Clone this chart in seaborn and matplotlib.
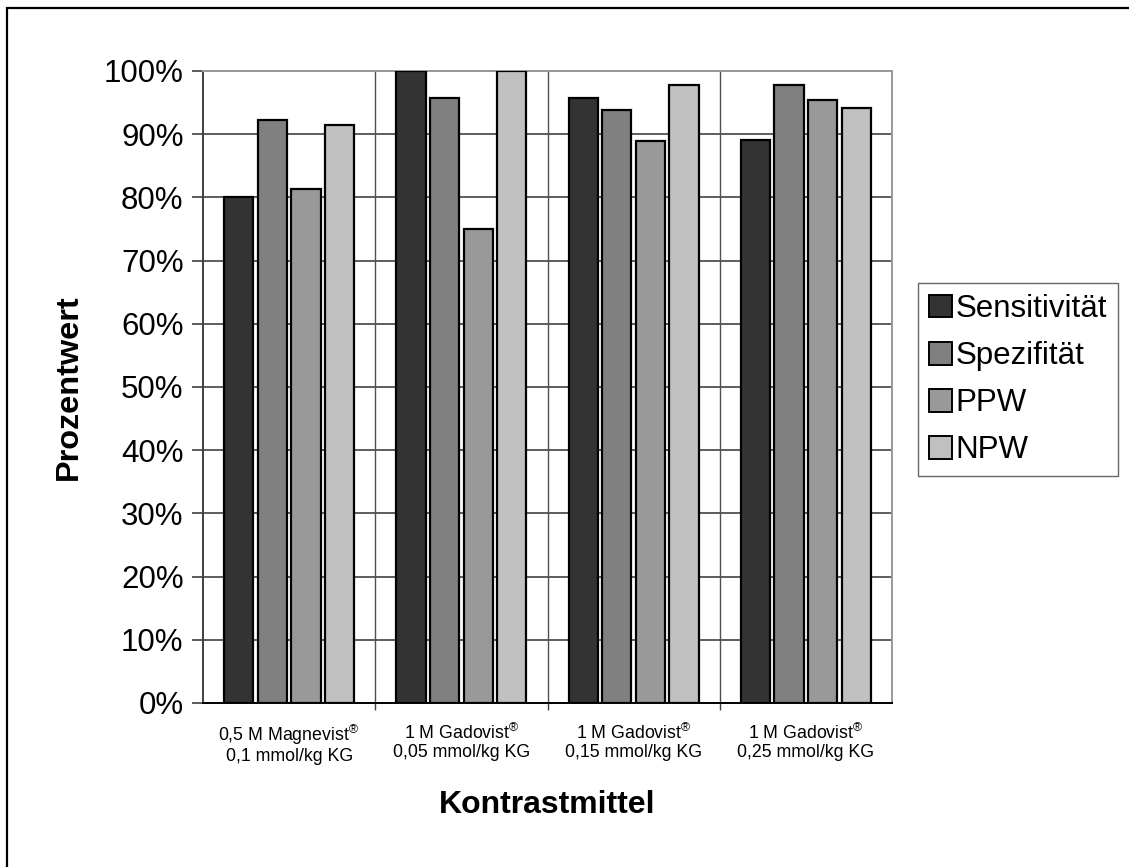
import matplotlib
matplotlib.use("Agg")
import matplotlib.pyplot as plt
from matplotlib.patches import Rectangle, Patch
from matplotlib.ticker import FuncFormatter, FixedLocator
import seaborn as sns
import pandas as pd

# Diagnostic measures per contrast agent protocol (percent)
categories = [
    "0,5 M Magnevist$^{®}$\n0,1 mmol/kg KG",
    "1 M Gadovist$^{®}$\n0,05 mmol/kg KG",
    "1 M Gadovist$^{®}$\n0,15 mmol/kg KG",
    "1 M Gadovist$^{®}$\n0,25 mmol/kg KG",
]
measures = ["Sensitivität", "Spezifität", "PPW", "NPW"]
sensitivitaet = [80.0, 100.0, 95.7, 89.1]
spezifitaet = [92.3, 95.7, 93.8, 97.8]
ppw = [81.3, 75.0, 88.9, 95.4]
npw = [91.4, 100.0, 97.8, 94.2]
colors = ["#333333", "#808080", "#999999", "#C0C0C0"]

rows = []
for m, vals in zip(measures, [sensitivitaet, spezifitaet, ppw, npw]):
    for c, v in zip(categories, vals):
        rows.append({"Kontrastmittel": c, "Maß": m, "Wert": v})
df = pd.DataFrame(rows)

sns.set_theme(style="white")
plt.rcParams["font.family"] = ["Liberation Sans", "DejaVu Sans"]
plt.rcParams["text.color"] = "black"
plt.rcParams["axes.labelcolor"] = "black"
plt.rcParams["xtick.color"] = "black"
plt.rcParams["ytick.color"] = "black"
plt.rcParams["mathtext.fontset"] = "custom"
plt.rcParams["mathtext.rm"] = "Liberation Sans"
plt.rcParams["mathtext.default"] = "regular"

W, H = 1129, 867
fig = plt.figure(figsize=(W / 100, H / 100), dpi=100)
ax = fig.add_axes([203 / W, 1 - 703 / H, (892 - 203) / W, (703 - 71) / H])

sns.barplot(data=df, x="Kontrastmittel", y="Wert", hue="Maß",
            palette=colors, width=0.78, gap=0.13, edgecolor="black",
            linewidth=1.6, ax=ax, legend=False, zorder=3)

ax.set_ylim(0, 100)
ax.set_xlim(-0.5, len(categories) - 0.5)
ax.yaxis.set_major_locator(FixedLocator(range(0, 101, 10)))
ax.yaxis.set_major_formatter(FuncFormatter(lambda v, p: f"{int(v)}%"))
ax.tick_params(axis="y", labelsize=22.5, length=8, width=1.2,
               color="#404040", labelcolor="black", direction="out",
               pad=6, left=True)

# Category separators
ax.xaxis.set_minor_locator(FixedLocator([i + 0.5 for i in range(len(categories) - 1)]))
ax.tick_params(axis="x", which="major", length=0, pad=14, labelcolor="black")
ax.tick_params(axis="x", which="minor", length=5, width=1.0,
               color="#404040", direction="out", bottom=True)
ax.grid(axis="y", which="major", color="#505050", linewidth=1.3, zorder=0)
ax.grid(axis="x", which="minor", color="#505050", linewidth=1.0, zorder=0)
ax.grid(axis="x", which="major", visible=False)
ax.set_axisbelow(True)
for lab in ax.get_xticklabels():
    lab.set_fontsize(12.8)
    lab.set_linespacing(1.12)

for side in ["top", "right"]:
    ax.spines[side].set_visible(True)
    ax.spines[side].set_color("#999999")
    ax.spines[side].set_linewidth(1.4)
ax.spines["left"].set_color("#404040")
ax.spines["left"].set_linewidth(1.4)
ax.spines["bottom"].set_color("black")
ax.spines["bottom"].set_linewidth(1.4)

ax.set_xlabel("Kontrastmittel", fontsize=23, fontweight="bold",
              labelpad=18, color="black")
ax.set_ylabel("Prozentwert", fontsize=23.4, fontweight="bold",
              labelpad=14, color="black")

handles = [Patch(facecolor=c, edgecolor="black", linewidth=1.4) for c in colors]
leg = fig.legend(handles, measures, loc="upper left",
                 bbox_to_anchor=(918 / W, 1 - 283 / H), fontsize=22.5,
                 frameon=True, fancybox=False, edgecolor="#404040",
                 handlelength=0.75, handleheight=0.75, handletextpad=0.1,
                 labelspacing=0.55, borderpad=0.35, borderaxespad=0)
leg.get_frame().set_linewidth(1.0)
for t in leg.get_texts():
    t.set_color("black")

# Outer frame around the chart area
fig.add_artist(Rectangle((7 / W, -0.05), 1.2, 1 - 8 / H + 0.05,
                         transform=fig.transFigure, fill=False,
                         edgecolor="black", linewidth=1.6, clip_on=False))

fig.savefig("out.png", dpi=100, facecolor="white")
